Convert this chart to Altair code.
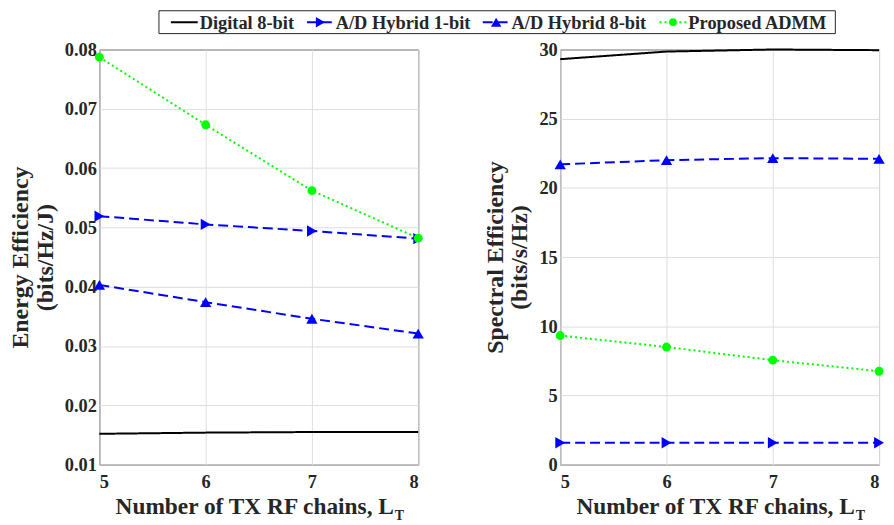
import altair as alt
import pandas as pd

x_vals = [5, 6, 7, 8]
series = ["Digital 8-bit", "A/D Hybrid 1-bit", "A/D Hybrid 8-bit", "Proposed ADMM"]

ee_digital = [0.0152, 0.0154, 0.0155, 0.0155]
ee_h1 = [0.0519, 0.0505, 0.0494, 0.0481]
ee_h8 = [0.0403, 0.0374, 0.0346, 0.0321]
ee_admm = [0.0787, 0.0673, 0.0562, 0.0482]

se_digital = [29.3, 29.85, 30.0, 29.95]
se_h1 = [1.58, 1.58, 1.58, 1.58]
se_h8 = [21.7, 22.0, 22.15, 22.1]
se_admm = [9.33, 8.5, 7.55, 6.75]

ee_ticks = [0.01, 0.02, 0.03, 0.04, 0.05, 0.06, 0.07, 0.08]
se_ticks = [0, 5, 10, 15, 20, 25, 30]

colors = ["#000000", "#0000FF", "#0000FF", "#00FF00"]
dashes = [[1, 0], [10, 5], [10, 5], [2, 3]]
shapes = ["circle", "triangle-right", "triangle-up", "circle"]

FONT = "Liberation Serif"
TXT = "#262626"
PW, PH = 321, 418

color_enc = alt.Color("series:N", scale=alt.Scale(domain=series, range=colors), legend=None)
dash_enc = alt.StrokeDash("series:N", scale=alt.Scale(domain=series, range=dashes), legend=None)
shape_enc = alt.Shape("series:N", scale=alt.Scale(domain=series, range=shapes), legend=None)

one = pd.DataFrame({"a": [0]})


def legend_layers():
    # legend strip drawn above the left panel (pixel layout relative to left plot)
    LY = -27.5
    layers = [alt.Chart(one).mark_rect(fill="white", stroke=TXT, strokeWidth=1).encode(
        x=alt.value(60), x2=alt.value(741), y=alt.value(-39), y2=alt.value(-16))]
    x0s = [72, 209, 386, 564]
    for i, s in enumerate(series):
        x0 = x0s[i]
        layers.append(alt.Chart(one).mark_rule(
            strokeWidth=2, color=colors[i], strokeDash=dashes[i]).encode(
            x=alt.value(x0), x2=alt.value(x0 + 27), y=alt.value(LY)))
        if i > 0:
            layers.append(alt.Chart(one).mark_point(
                filled=True, opacity=1, color=colors[i], shape=shapes[i],
                size=110 if i < 3 else 60).encode(x=alt.value(x0 + 13.5), y=alt.value(LY)))
        layers.append(alt.Chart(pd.DataFrame({"t": [s]})).mark_text(
            align="left", baseline="middle", font=FONT, fontSize=18.5, fontWeight="bold", color=TXT
        ).encode(text="t:N", x=alt.value(x0 + 29), y=alt.value(LY + 1)))
    return layers


def panel(vals, ydomain, yticks, yfmt, ytitle, with_legend=False):
    rows = []
    for s, v in zip(series, vals):
        for x, y in zip(x_vals, v):
            rows.append({"series": s, "x": x, "y": y})
    df = pd.DataFrame(rows)
    xenc = alt.X("x:Q", scale=alt.Scale(domain=[5, 8], nice=False, zero=False),
                 axis=alt.Axis(values=x_vals, format="d", title=None, labelPadding=8))
    yenc = alt.Y("y:Q", scale=alt.Scale(domain=ydomain, nice=False, zero=False),
                 axis=alt.Axis(values=yticks, format=yfmt, title=ytitle, labelPadding=3,
                               titlePadding=7, titleLineHeight=25))
    base = alt.Chart(df)
    lines = base.mark_line(strokeWidth=2).encode(x=xenc, y=yenc, color=color_enc, strokeDash=dash_enc)
    tri = base.transform_filter(
        (alt.datum.series == series[1]) | (alt.datum.series == series[2])
    ).mark_point(filled=True, size=130, opacity=1).encode(x=xenc, y=yenc, color=color_enc, shape=shape_enc)
    circ = base.transform_filter(alt.datum.series == series[3]).mark_point(
        filled=True, size=80, opacity=1).encode(x=xenc, y=yenc, color=color_enc, shape=shape_enc)
    t1 = alt.Chart(pd.DataFrame({"t": ["Number of TX RF chains, L"]})).mark_text(
        align="right", baseline="alphabetic", font=FONT, fontSize=23.5, fontWeight="bold", color=TXT
    ).encode(text="t:N", x=alt.value(PW / 2 + 136), y=alt.value(PH + 50))
    t2 = alt.Chart(pd.DataFrame({"t": ["T"]})).mark_text(
        align="left", baseline="alphabetic", font=FONT, fontSize=14, fontWeight="bold", color=TXT
    ).encode(text="t:N", x=alt.value(PW / 2 + 137), y=alt.value(PH + 56))
    layers = [lines, tri, circ, t1, t2]
    if with_legend:
        layers += legend_layers()
    return alt.layer(*layers).properties(width=PW, height=PH)


left = panel([ee_digital, ee_h1, ee_h8, ee_admm], [0.01, 0.08], ee_ticks, ".2f",
             ["Energy Efficiency", "(bits/Hz/J)"], with_legend=True)
right = panel([se_digital, se_h1, se_h8, se_admm], [0, 30], se_ticks, "d",
              ["Spectral Efficiency", "(bits/s/Hz)"])

chart = alt.hconcat(left, right, spacing=143, bounds="flush").properties(
    padding=0
).configure_view(
    stroke=TXT, strokeWidth=1
).configure_axis(
    labelFont=FONT, labelFontSize=18.5, labelFontWeight="bold", labelColor=TXT,
    titleFont=FONT, titleFontSize=24, titleFontWeight="bold", titleColor=TXT,
    ticks=False, domain=False, grid=True, gridColor="#dedede", gridWidth=1,
)

chart.save("out.html", embed_options={"renderer": "svg", "actions": False})
